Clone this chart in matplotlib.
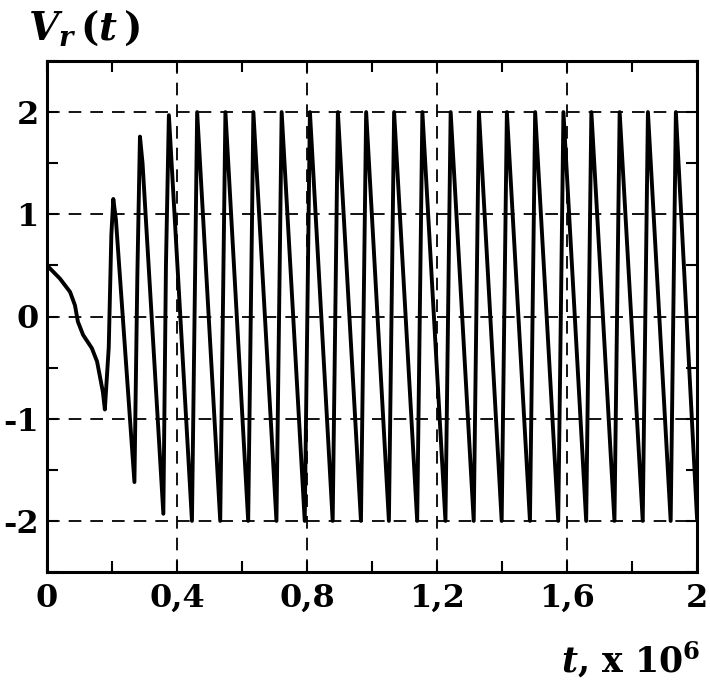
import matplotlib
matplotlib.use('Agg')
import matplotlib.pyplot as plt
from matplotlib.ticker import MultipleLocator, FixedLocator

plt.rcParams['font.family'] = 'DejaVu Serif'
plt.rcParams['font.weight'] = 'bold'
plt.rcParams['mathtext.fontset'] = 'custom'
plt.rcParams['mathtext.it'] = 'DejaVu Serif:italic:bold'
plt.rcParams['mathtext.rm'] = 'DejaVu Serif:bold'
plt.rcParams['mathtext.bf'] = 'DejaVu Serif:bold'

# start-up transient (t in units of 1e6)
t_start = [0.0, 0.04, 0.071, 0.086, 0.095, 0.111, 0.138, 0.154, 0.163, 0.172, 0.178,
           0.190, 0.198, 0.204, 0.212, 0.269, 0.278, 0.286, 0.294, 0.358, 0.366]
v_start = [0.50, 0.37, 0.24, 0.11, -0.05, -0.18, -0.31, -0.44, -0.59, -0.74, -0.91,
           -0.30, 0.80, 1.15, 0.95, -1.62, 0.40, 1.76, 1.50, -1.93, 0.50]

# steady oscillation: peaks and troughs
t_peak = [0.375, 0.462, 0.549, 0.635, 0.722, 0.809, 0.895, 0.982, 1.068, 1.155,
          1.242, 1.329, 1.415, 1.502, 1.589, 1.675, 1.762, 1.849, 1.935]
v_peak = [1.97, 2.0, 2.0, 2.0, 2.0, 2.0, 2.0, 2.0, 2.0, 2.0,
          2.0, 2.0, 2.0, 2.0, 2.0, 2.0, 2.0, 2.0, 2.0]
t_trough = [0.446, 0.533, 0.619, 0.706, 0.793, 0.879, 0.966, 1.052, 1.139, 1.226,
            1.313, 1.399, 1.486, 1.573, 1.659, 1.746, 1.833, 1.919, 2.0]
v_trough = [-2.0, -2.0, -2.0, -2.0, -2.0, -2.0, -2.0, -2.0, -2.0, -2.0,
            -2.0, -2.0, -2.0, -2.0, -2.0, -2.0, -2.0, -2.0, -1.97]

x_ticks = [0, 0.4, 0.8, 1.2, 1.6, 2.0]
x_labels = ['0', '0,4', '0,8', '1,2', '1,6', '2']
y_ticks = [-2, -1, 0, 1, 2]
y_labels = ['-2', '-1', '0', '1', '2']

t = list(t_start)
v = list(v_start)
for tp, vp, tt, vt in zip(t_peak, v_peak, t_trough, v_trough):
    t += [tp, tt]
    v += [vp, vt]

fig = plt.figure(figsize=(7.1, 6.83), dpi=100)
ax = fig.add_axes([47/710, 1 - 572/683, 650/710, 511/683])

for xv in x_ticks[1:-1]:
    ax.axvline(xv, color='black', lw=1.3, dashes=(7, 5), zorder=1)
for yv in y_ticks:
    ax.axhline(yv, color='black', lw=1.3, dashes=(7, 5), zorder=1)

ax.plot(t, v, color='black', lw=2.8, solid_joinstyle='round', zorder=3)

ax.set_xlim(0, 2)
ax.set_ylim(-2.5, 2.5)
ax.xaxis.set_major_locator(FixedLocator(x_ticks))
ax.set_xticklabels(x_labels)
ax.yaxis.set_major_locator(FixedLocator(y_ticks))
ax.set_yticklabels(y_labels)
ax.xaxis.set_minor_locator(MultipleLocator(0.2))
ax.yaxis.set_minor_locator(MultipleLocator(0.5))
ax.tick_params(which='both', direction='in', top=True, right=True, width=1.5)
ax.tick_params(which='major', length=8, labelsize=23)
ax.tick_params(axis='y', which='major', pad=6)
ax.tick_params(axis='x', which='major', pad=8)
ax.tick_params(which='minor', length=8)
for lab in ax.get_xticklabels() + ax.get_yticklabels():
    lab.set_fontweight('bold')
for sp in ax.spines.values():
    sp.set_linewidth(2.2)

fig.text(28/710, 1 - 28/683, r'$V_r\,(t\,)$', fontsize=28, va='center', ha='left')
fig.text(700/710, 1 - 660/683, r'$t$, x 10$^6$', fontsize=25, fontweight='bold',
         va='center', ha='right')

fig.savefig('out.png', dpi=100)
